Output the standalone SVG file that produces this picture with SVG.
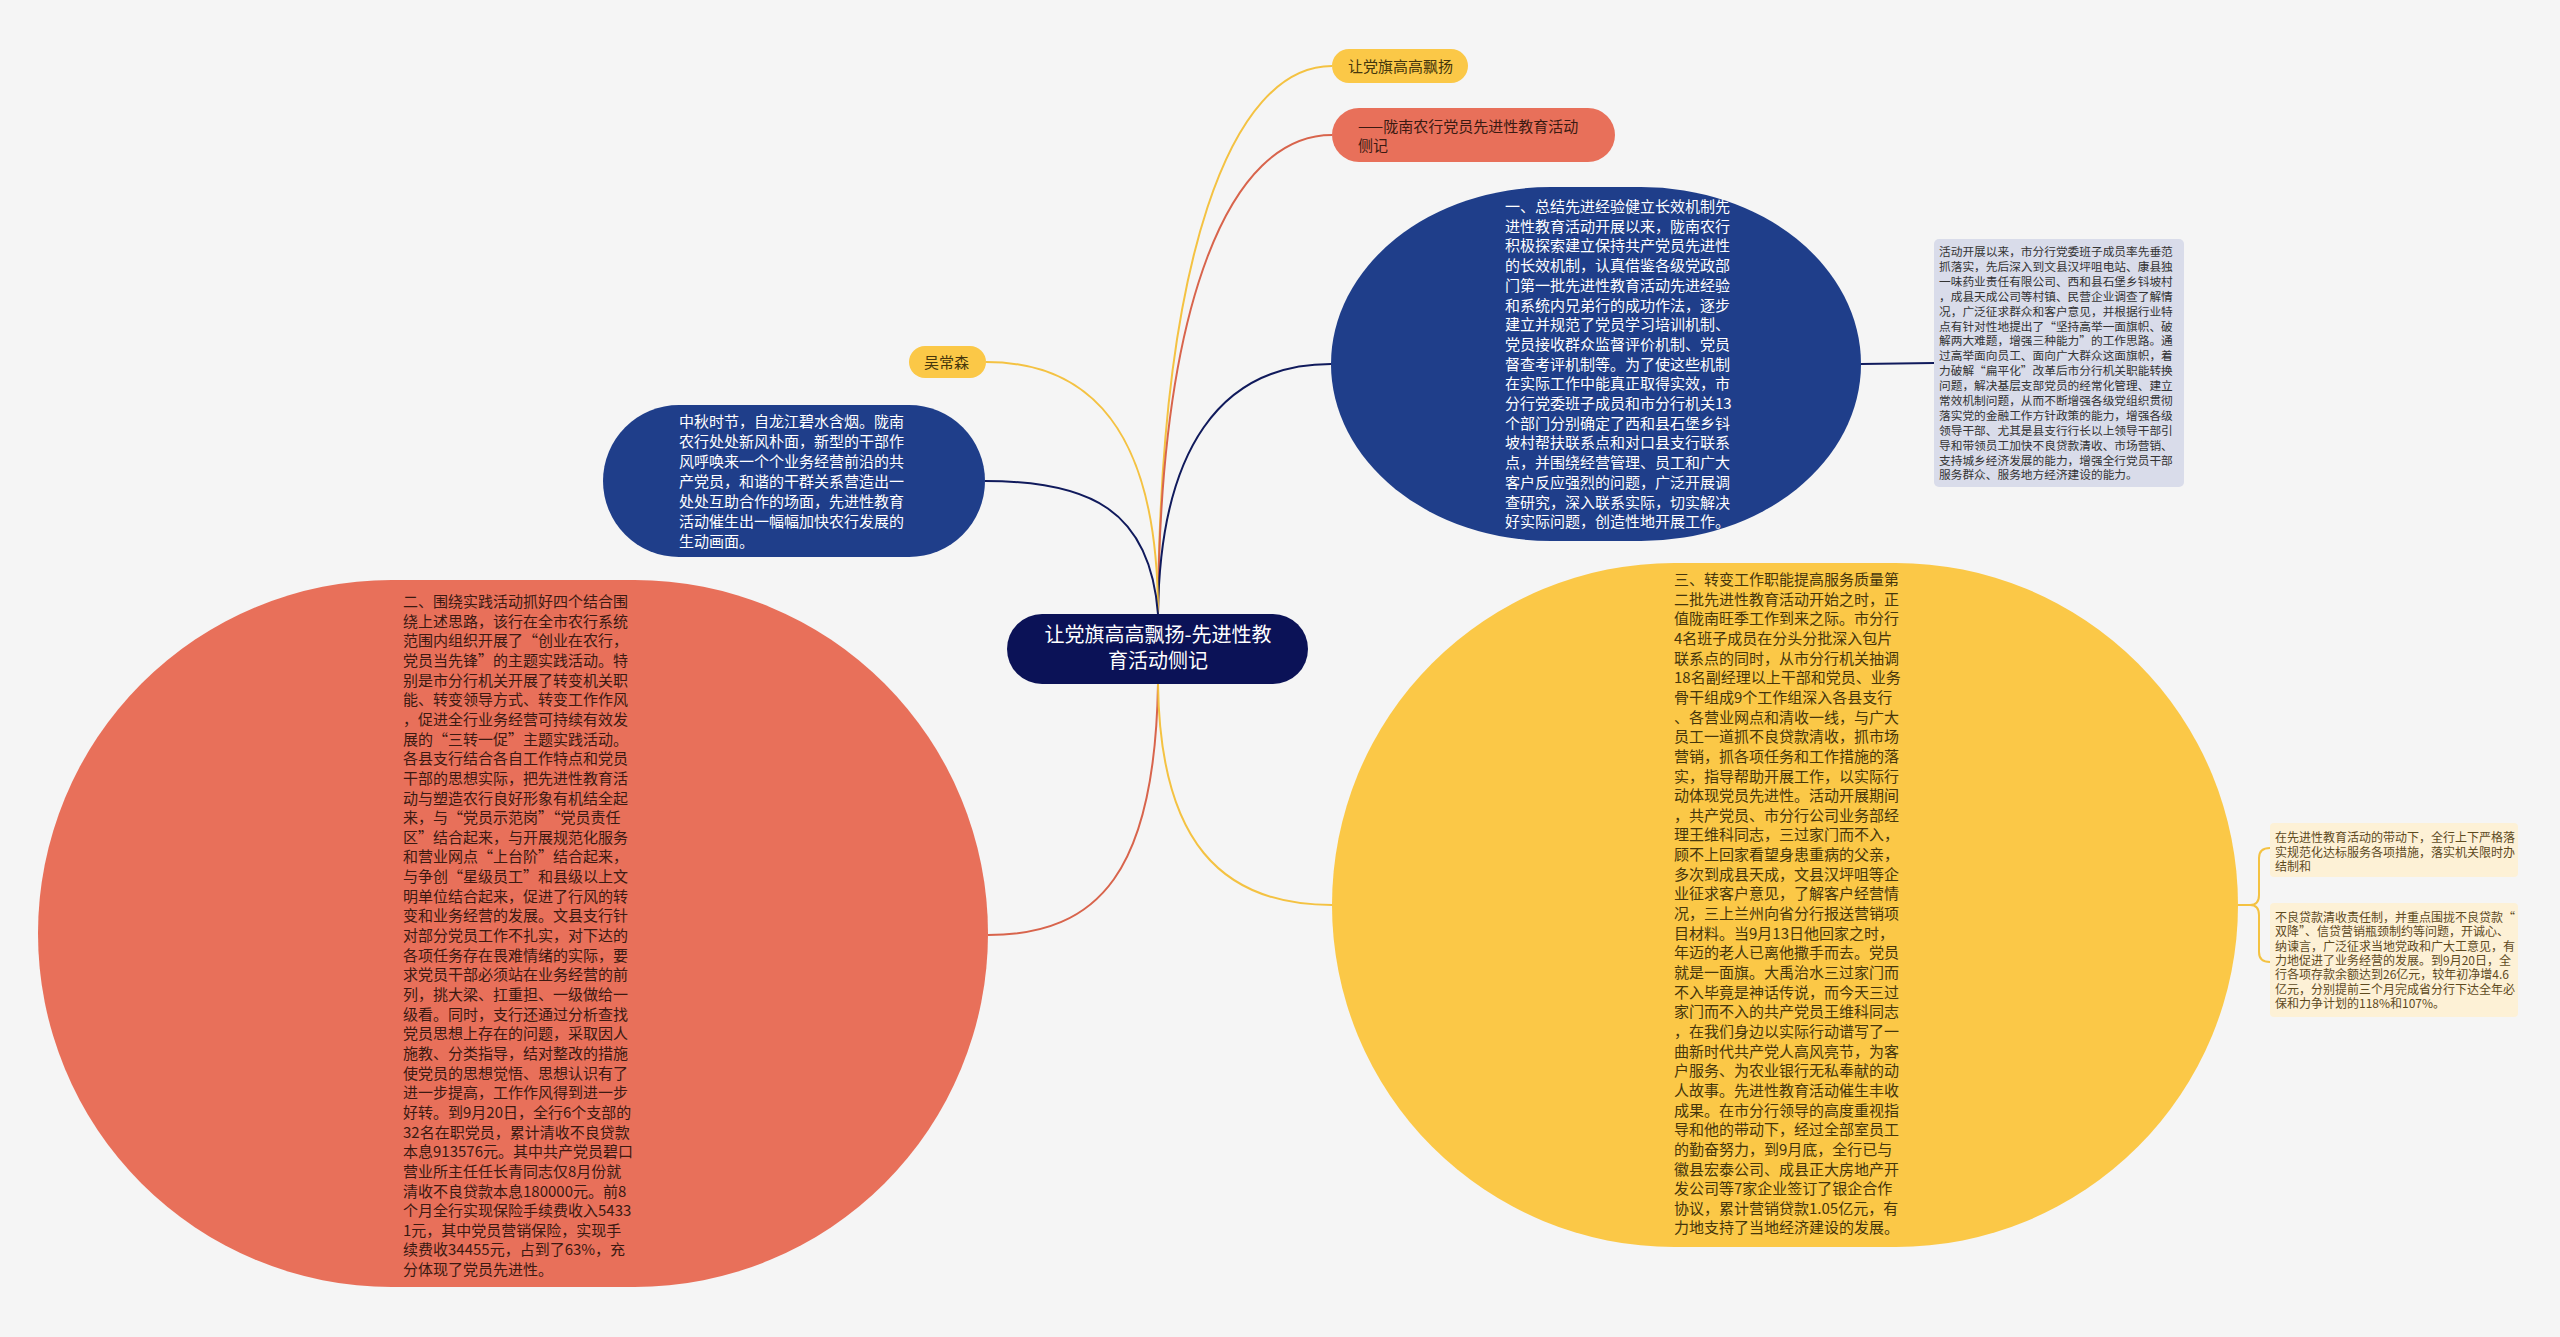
<svg xmlns="http://www.w3.org/2000/svg" width="2560" height="1337" viewBox="0 0 2560 1337">
<style>
text{font-family:"Noto Sans CJK SC","Noto Sans",sans-serif;}
.w{fill:#ffffff;font-size:15px;}
.dk{fill:#3b1a12;font-size:15px;}
.yk{fill:#45360c;font-size:15px;}
.sm{fill:#333333;font-size:11.7px;}
.sb{fill:#5e4a1e;font-size:12px;}
.c{fill:none;stroke-width:2;}
.cn{stroke:#101a5c;}
.cy{stroke:#f4c242;}
.cr{stroke:#d8644c;}
</style>
<rect x="0" y="0" width="2560" height="1337" fill="#f5f5f5"/>
<g id="connectors">
<path class="c cy" d="M1158,614 C1160,260 1230,66 1332,66"/>
<path class="c cr" d="M1158,614 C1160,300 1230,135 1332,135"/>
<path class="c cn" d="M1158,614 C1160,450 1220,364 1331,364"/>
<path class="c cy" d="M1158,614 C1158,430 1090,362 986,362"/>
<path class="c cn" d="M1158,614 C1150,510 1090,481 985,481"/>
<path class="c cr" d="M1158,684 C1155,870 1100,935 988,935"/>
<path class="c cy" d="M1158,684 C1160,840 1220,905 1332,905"/>
<path class="c cn" d="M1861,364 L1934,363"/>
<path class="c cy" d="M2238,905 L2250,905 Q2259,905 2259,895 L2259,858 Q2259,848 2270,848 M2250,905 Q2259,905 2259,915 L2259,952 Q2259,962 2270,962"/>
</g>
<g id="center">
<rect x="1007" y="614" width="301" height="70" rx="35" fill="#0b1257"/>
<text x="1158" y="642" font-size="20" fill="#ffffff" text-anchor="middle">让党旗高高飘扬-先进性教</text>
<text x="1158" y="668" font-size="20" fill="#ffffff" text-anchor="middle">育活动侧记</text>
</g>
<g id="title-yellow">
<rect x="1332" y="49" width="136" height="34" rx="17" fill="#fbc847"/>
<text x="1348" y="72" class="yk">让党旗高高飘扬</text>
</g>
<g id="title-red">
<rect x="1332" y="108" width="283" height="54" rx="27" fill="#e8705a"/>
<text class="dk"><tspan x="1358" y="132">——陇南农行党员先进性教育活动</tspan><tspan x="1358" y="151">侧记</tspan></text>
</g>
<g id="node-blue-right">
<rect x="1331" y="187" width="530" height="354" rx="220" ry="177" fill="#1f3e8a"/>
<text class="w">
<tspan x="1505" y="212">一、总结先进经验健立长效机制先</tspan>
<tspan x="1505" dy="19.7">进性教育活动开展以来，陇南农行</tspan>
<tspan x="1505" dy="19.7">积极探索建立保持共产党员先进性</tspan>
<tspan x="1505" dy="19.7">的长效机制，认真借鉴各级党政部</tspan>
<tspan x="1505" dy="19.7">门第一批先进性教育活动先进经验</tspan>
<tspan x="1505" dy="19.7">和系统内兄弟行的成功作法，逐步</tspan>
<tspan x="1505" dy="19.7">建立并规范了党员学习培训机制、</tspan>
<tspan x="1505" dy="19.7">党员接收群众监督评价机制、党员</tspan>
<tspan x="1505" dy="19.7">督查考评机制等。为了使这些机制</tspan>
<tspan x="1505" dy="19.7">在实际工作中能真正取得实效，市</tspan>
<tspan x="1505" dy="19.7">分行党委班子成员和市分行机关13</tspan>
<tspan x="1505" dy="19.7">个部门分别确定了西和县石堡乡钭</tspan>
<tspan x="1505" dy="19.7">坡村帮扶联系点和对口县支行联系</tspan>
<tspan x="1505" dy="19.7">点，并围绕经营管理、员工和广大</tspan>
<tspan x="1505" dy="19.7">客户反应强烈的问题，广泛开展调</tspan>
<tspan x="1505" dy="19.7">查研究，深入联系实际，切实解决</tspan>
<tspan x="1505" dy="19.7">好实际问题，创造性地开展工作。</tspan>
</text>
</g>
<g id="node-gray">
<rect x="1934" y="239" width="250" height="248" rx="5" fill="#d9dcea"/>
<text class="sm">
<tspan x="1939" y="256">活动开展以来，市分行党委班子成员率先垂范</tspan>
<tspan x="1939" dy="14.9">抓落实，先后深入到文县汉坪咀电站、康县独</tspan>
<tspan x="1939" dy="14.9">一味药业责任有限公司、西和县石堡乡钭坡村</tspan>
<tspan x="1939" dy="14.9">，成县天成公司等村镇、民营企业调查了解情</tspan>
<tspan x="1939" dy="14.9">况，广泛征求群众和客户意见，并根据行业特</tspan>
<tspan x="1939" dy="14.9">点有针对性地提出了“坚持高举一面旗帜、破</tspan>
<tspan x="1939" dy="14.9">解两大难题，增强三种能力”的工作思路。通</tspan>
<tspan x="1939" dy="14.9">过高举面向员工、面向广大群众这面旗帜，着</tspan>
<tspan x="1939" dy="14.9">力破解“扁平化”改革后市分行机关职能转换</tspan>
<tspan x="1939" dy="14.9">问题，解决基层支部党员的经常化管理、建立</tspan>
<tspan x="1939" dy="14.9">常效机制问题，从而不断增强各级党组织贯彻</tspan>
<tspan x="1939" dy="14.9">落实党的金融工作方针政策的能力，增强各级</tspan>
<tspan x="1939" dy="14.9">领导干部、尤其是县支行行长以上领导干部引</tspan>
<tspan x="1939" dy="14.9">导和带领员工加快不良贷款清收、市场营销、</tspan>
<tspan x="1939" dy="14.9">支持城乡经济发展的能力，增强全行党员干部</tspan>
<tspan x="1939" dy="14.9">服务群众、服务地方经济建设的能力。</tspan>
</text>
</g>
<g id="node-author">
<rect x="909" y="346" width="77" height="32" rx="16" fill="#fbc847"/>
<text x="924" y="368" class="yk">吴常森</text>
</g>
<g id="node-blue-left">
<rect x="603" y="405" width="382" height="152" rx="76" fill="#1f3e8a"/>
<text class="w">
<tspan x="679" y="427">中秋时节，自龙江碧水含烟。陇南</tspan>
<tspan x="679" dy="20">农行处处新风朴面，新型的干部作</tspan>
<tspan x="679" dy="20">风呼唤来一个个业务经营前沿的共</tspan>
<tspan x="679" dy="20">产党员，和谐的干群关系营造出一</tspan>
<tspan x="679" dy="20">处处互助合作的场面，先进性教育</tspan>
<tspan x="679" dy="20">活动催生出一幅幅加快农行发展的</tspan>
<tspan x="679" dy="20">生动画面。</tspan>
</text>
</g>
<g id="node-red">
<rect x="38" y="580" width="950" height="707" rx="353.5" fill="#e8705a"/>
<text class="dk">
<tspan x="403" y="607">二、围绕实践活动抓好四个结合围</tspan>
<tspan x="403" dy="19.65">绕上述思路，该行在全市农行系统</tspan>
<tspan x="403" dy="19.65">范围内组织开展了“创业在农行，</tspan>
<tspan x="403" dy="19.65">党员当先锋”的主题实践活动。特</tspan>
<tspan x="403" dy="19.65">别是市分行机关开展了转变机关职</tspan>
<tspan x="403" dy="19.65">能、转变领导方式、转变工作作风</tspan>
<tspan x="403" dy="19.65">，促进全行业务经营可持续有效发</tspan>
<tspan x="403" dy="19.65">展的“三转一促”主题实践活动。</tspan>
<tspan x="403" dy="19.65">各县支行结合各自工作特点和党员</tspan>
<tspan x="403" dy="19.65">干部的思想实际，把先进性教育活</tspan>
<tspan x="403" dy="19.65">动与塑造农行良好形象有机结全起</tspan>
<tspan x="403" dy="19.65">来，与“党员示范岗”“党员责任</tspan>
<tspan x="403" dy="19.65">区”结合起来，与开展规范化服务</tspan>
<tspan x="403" dy="19.65">和营业网点“上台阶”结合起来，</tspan>
<tspan x="403" dy="19.65">与争创“星级员工”和县级以上文</tspan>
<tspan x="403" dy="19.65">明单位结合起来，促进了行风的转</tspan>
<tspan x="403" dy="19.65">变和业务经营的发展。文县支行针</tspan>
<tspan x="403" dy="19.65">对部分党员工作不扎实，对下达的</tspan>
<tspan x="403" dy="19.65">各项任务存在畏难情绪的实际，要</tspan>
<tspan x="403" dy="19.65">求党员干部必须站在业务经营的前</tspan>
<tspan x="403" dy="19.65">列，挑大梁、扛重担、一级做给一</tspan>
<tspan x="403" dy="19.65">级看。同时，支行还通过分析查找</tspan>
<tspan x="403" dy="19.65">党员思想上存在的问题，采取因人</tspan>
<tspan x="403" dy="19.65">施教、分类指导，结对整改的措施</tspan>
<tspan x="403" dy="19.65">使党员的思想觉悟、思想认识有了</tspan>
<tspan x="403" dy="19.65">进一步提高，工作作风得到进一步</tspan>
<tspan x="403" dy="19.65">好转。到9月20日，全行6个支部的</tspan>
<tspan x="403" dy="19.65">32名在职党员，累计清收不良贷款</tspan>
<tspan x="403" dy="19.65">本息913576元。其中共产党员碧口</tspan>
<tspan x="403" dy="19.65">营业所主任任长青同志仅8月份就</tspan>
<tspan x="403" dy="19.65">清收不良贷款本息180000元。前8</tspan>
<tspan x="403" dy="19.65">个月全行实现保险手续费收入5433</tspan>
<tspan x="403" dy="19.65">1元，其中党员营销保险，实现手</tspan>
<tspan x="403" dy="19.65">续费收34455元，占到了63%，充</tspan>
<tspan x="403" dy="19.65">分体现了党员先进性。</tspan>
</text>
</g>
<g id="node-yellow">
<rect x="1332" y="563" width="906" height="684" rx="342" fill="#fbc847"/>
<text class="yk">
<tspan x="1674" y="585">三、转变工作职能提高服务质量第</tspan>
<tspan x="1674" dy="19.65">二批先进性教育活动开始之时，正</tspan>
<tspan x="1674" dy="19.65">值陇南旺季工作到来之际。市分行</tspan>
<tspan x="1674" dy="19.65">4名班子成员在分头分批深入包片</tspan>
<tspan x="1674" dy="19.65">联系点的同时，从市分行机关抽调</tspan>
<tspan x="1674" dy="19.65">18名副经理以上干部和党员、业务</tspan>
<tspan x="1674" dy="19.65">骨干组成9个工作组深入各县支行</tspan>
<tspan x="1674" dy="19.65">、各营业网点和清收一线，与广大</tspan>
<tspan x="1674" dy="19.65">员工一道抓不良贷款清收，抓市场</tspan>
<tspan x="1674" dy="19.65">营销，抓各项任务和工作措施的落</tspan>
<tspan x="1674" dy="19.65">实，指导帮助开展工作，以实际行</tspan>
<tspan x="1674" dy="19.65">动体现党员先进性。活动开展期间</tspan>
<tspan x="1674" dy="19.65">，共产党员、市分行公司业务部经</tspan>
<tspan x="1674" dy="19.65">理王维科同志，三过家门而不入，</tspan>
<tspan x="1674" dy="19.65">顾不上回家看望身患重病的父亲，</tspan>
<tspan x="1674" dy="19.65">多次到成县天成，文县汉坪咀等企</tspan>
<tspan x="1674" dy="19.65">业征求客户意见，了解客户经营情</tspan>
<tspan x="1674" dy="19.65">况，三上兰州向省分行报送营销项</tspan>
<tspan x="1674" dy="19.65">目材料。当9月13日他回家之时，</tspan>
<tspan x="1674" dy="19.65">年迈的老人已离他撒手而去。党员</tspan>
<tspan x="1674" dy="19.65">就是一面旗。大禹治水三过家门而</tspan>
<tspan x="1674" dy="19.65">不入毕竟是神话传说，而今天三过</tspan>
<tspan x="1674" dy="19.65">家门而不入的共产党员王维科同志</tspan>
<tspan x="1674" dy="19.65">，在我们身边以实际行动谱写了一</tspan>
<tspan x="1674" dy="19.65">曲新时代共产党人高风亮节，为客</tspan>
<tspan x="1674" dy="19.65">户服务、为农业银行无私奉献的动</tspan>
<tspan x="1674" dy="19.65">人故事。先进性教育活动催生丰收</tspan>
<tspan x="1674" dy="19.65">成果。在市分行领导的高度重视指</tspan>
<tspan x="1674" dy="19.65">导和他的带动下，经过全部室员工</tspan>
<tspan x="1674" dy="19.65">的勤奋努力，到9月底，全行已与</tspan>
<tspan x="1674" dy="19.65">徽县宏泰公司、成县正大房地产开</tspan>
<tspan x="1674" dy="19.65">发公司等7家企业签订了银企合作</tspan>
<tspan x="1674" dy="19.65">协议，累计营销贷款1.05亿元，有</tspan>
<tspan x="1674" dy="19.65">力地支持了当地经济建设的发展。</tspan>
</text>
</g>
<g id="node-box1">
<rect x="2270" y="823" width="248" height="54" rx="4" fill="#fdf1d6"/>
<text class="sb">
<tspan x="2275" y="842">在先进性教育活动的带动下，全行上下严格落</tspan>
<tspan x="2275" dy="14.5">实规范化达标服务各项措施，落实机关限时办</tspan>
<tspan x="2275" dy="14.5">结制和</tspan>
</text>
</g>
<g id="node-box2">
<rect x="2270" y="903" width="248" height="114" rx="4" fill="#fdf1d6"/>
<text class="sb">
<tspan x="2275" y="922">不良贷款清收责任制，并重点围拢不良贷款“</tspan>
<tspan x="2275" dy="14.3">双降”、信贷营销瓶颈制约等问题，开诚心、</tspan>
<tspan x="2275" dy="14.3">纳谏言，广泛征求当地党政和广大工意见，有</tspan>
<tspan x="2275" dy="14.3">力地促进了业务经营的发展。到9月20日，全</tspan>
<tspan x="2275" dy="14.3">行各项存款余额达到26亿元，较年初净增4.6</tspan>
<tspan x="2275" dy="14.3">亿元，分别提前三个月完成省分行下达全年必</tspan>
<tspan x="2275" dy="14.3">保和力争计划的118%和107%。</tspan>
</text>
</g>
</svg>
